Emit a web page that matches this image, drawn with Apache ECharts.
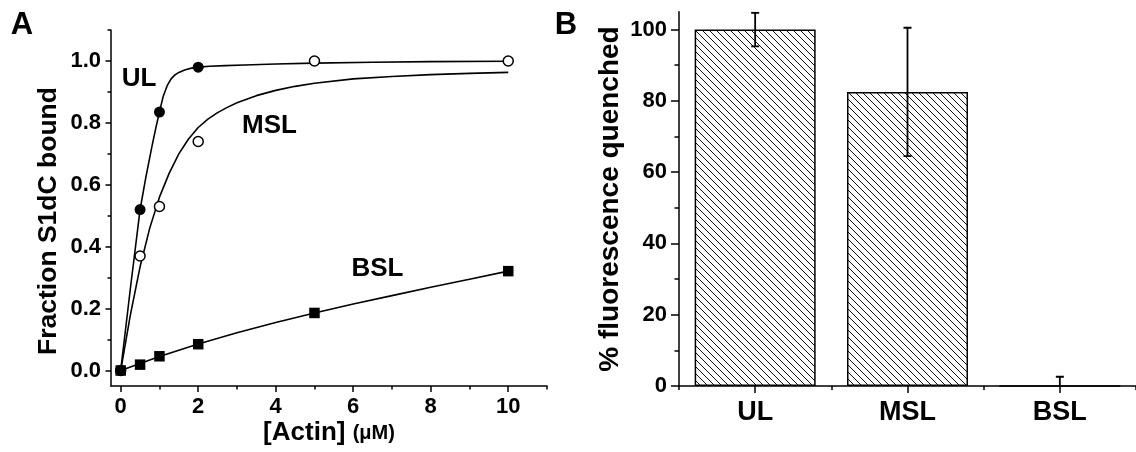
<!DOCTYPE html>
<html>
<head>
<meta charset="utf-8">
<script src="https://cdn.jsdelivr.net/npm/echarts@6/dist/echarts.min.js"></script>
<style>
  html, body { margin: 0; padding: 0; background: #fff; }
  #chart { width: 1136px; height: 452px; }
</style>
</head>
<body>
<div id="chart"></div>
<script>
// ---- Panel A: fraction of S1dC bound vs [Actin] ----
const ulX = [0, 0.5, 1, 2];
const ulY = [0, 0.52, 0.835, 0.98];
const mslX = [0, 0.5, 1, 2, 5, 10];
const mslY = [0, 0.37, 0.53, 0.74, 1.0, 1.0];
const bslX = [0, 0.5, 1, 2, 5, 10];
const bslY = [0, 0.019, 0.046, 0.085, 0.186, 0.321];

// fitted binding curves
const ulFitX = [0, 0.25, 0.5, 0.65, 0.8, 0.9, 1.0, 1.1, 1.2, 1.3, 1.4, 1.5, 1.65, 1.8, 2, 2.3, 2.7, 3.2, 4, 5, 6.5, 8, 10];
const ulFitY = [0, 0.265, 0.52, 0.625, 0.72, 0.78, 0.835, 0.887, 0.92, 0.942, 0.955, 0.963, 0.971, 0.976, 0.98, 0.983, 0.985, 0.987, 0.99, 0.993, 0.996, 0.998, 0.999];
const mslFitX = [0, 0.25, 0.5, 0.75, 1, 1.25, 1.5, 1.75, 2, 2.25, 2.5, 2.75, 3, 3.5, 4, 4.5, 5, 6, 7, 8, 9, 10];
const mslFitY = [0, 0.18, 0.335, 0.46, 0.56, 0.637, 0.70, 0.748, 0.785, 0.812, 0.833, 0.85, 0.865, 0.888, 0.905, 0.918, 0.928, 0.942, 0.950, 0.956, 0.960, 0.963];
const bslFitX = [0, 0.5, 1, 2, 3, 4, 5, 6, 7, 8, 9, 10];
const bslFitY = [0, 0.023, 0.045, 0.086, 0.122, 0.155, 0.186, 0.215, 0.242, 0.269, 0.295, 0.321];

const aXMajor = [0, 2, 4, 6, 8, 10];
const aXMinor = [1, 3, 5, 7, 9, 11];
const aYMajor = [0, 0.2, 0.4, 0.6, 0.8, 1.0];
const aYMinor = [0.1, 0.3, 0.5, 0.7, 0.9, 1.1];

// ---- Panel B: % fluorescence quenched ----
const bCategories = ['UL', 'MSL', 'BSL'];
const bQuench = [100, 82.5, 0];
const bErr = [4.7, 18, 2.6];
const bYMajor = [0, 20, 40, 60, 80, 100];
const bYMinor = [10, 30, 50, 70, 90];

const FONT = "'Liberation Sans', Arial, Helvetica, sans-serif";
const zip = (xs, ys) => xs.map((x, i) => [x, ys[i]]);

// diagonal hatch tile for the bars
function hatchTile() {
  const n = 7;
  const c = document.createElement('canvas');
  c.width = n; c.height = n;
  const g = c.getContext('2d');
  g.fillStyle = '#fff';
  g.fillRect(0, 0, n, n);
  g.strokeStyle = '#111';
  g.lineWidth = 1;
  g.beginPath();
  g.moveTo(-1, -1); g.lineTo(n + 1, n + 1);
  g.moveTo(-1, n - 1); g.lineTo(1, n + 1);
  g.moveTo(n - 1, -1); g.lineTo(n + 1, 1);
  g.stroke();
  return c;
}

const black = { color: '#000', width: 1.5 };
const tickFont = { color: '#000', fontSize: 22, fontWeight: 'bold', fontFamily: FONT };

function majorAxis(extra) {
  return Object.assign({
    axisLine: { show: true, onZero: false, lineStyle: black },
    splitLine: { show: false }
  }, extra);
}
function minorAxis(extra) {
  return Object.assign({
    axisLine: { show: false, onZero: false },
    axisLabel: { show: false },
    splitLine: { show: false }
  }, extra);
}

function textEl(x, y, text, size, rotation) {
  return {
    type: 'text', x: x, y: y, rotation: rotation || 0,
    style: {
      text: text, fill: '#000', fontSize: size, fontWeight: 'bold', fontFamily: FONT,
      align: 'center', verticalAlign: 'middle', textAlign: 'center', textVerticalAlign: 'middle'
    }
  };
}

const chart = echarts.init(document.getElementById('chart'), null, { renderer: 'canvas' });

const curveStyle = { color: '#000', width: 1.6 };

const option = {
  animation: false,
  backgroundColor: '#fff',
  grid: [
    { left: 111, right: 589, top: 30, bottom: 66, outerBoundsMode: 'none', containLabel: false },
    { left: 679, right: 0, top: 11.7, bottom: 66, outerBoundsMode: 'none', containLabel: false }
  ],
  xAxis: [
    majorAxis({
      gridIndex: 0, type: 'value', min: -0.25, max: 11, position: 'bottom',
      axisTick: { show: true, length: 6, customValues: aXMajor, lineStyle: black },
      axisLabel: Object.assign({ customValues: aXMajor, margin: 10 }, tickFont)
    }),
    minorAxis({
      gridIndex: 0, type: 'value', min: -0.25, max: 11, position: 'bottom',
      axisTick: { show: true, length: 3.5, customValues: aXMinor, lineStyle: black }
    }),
    majorAxis({
      gridIndex: 1, type: 'category', data: bCategories, position: 'bottom', boundaryGap: true,
      axisTick: { show: true, alignWithLabel: true, length: 7, lineStyle: black },
      axisLabel: { margin: 13, color: '#000', fontSize: 27, fontWeight: 'bold', fontFamily: FONT }
    }),
    minorAxis({
      gridIndex: 1, type: 'category', data: bCategories, position: 'bottom', boundaryGap: true,
      axisTick: { show: true, alignWithLabel: false, interval: 0, length: 4, lineStyle: black }
    })
  ],
  yAxis: [
    majorAxis({
      gridIndex: 0, type: 'value', min: -0.05, max: 1.1, position: 'left',
      axisTick: { show: true, length: 5.5, customValues: aYMajor, lineStyle: black },
      axisLabel: Object.assign({ customValues: aYMajor, margin: 10, formatter: v => v.toFixed(1) }, tickFont)
    }),
    minorAxis({
      gridIndex: 0, type: 'value', min: -0.05, max: 1.1, position: 'left',
      axisTick: { show: true, length: 3.5, customValues: aYMinor, lineStyle: black }
    }),
    majorAxis({
      gridIndex: 1, type: 'value', min: 0, max: 105, position: 'left',
      axisTick: { show: true, length: 8, customValues: bYMajor, lineStyle: black },
      axisLabel: Object.assign({ customValues: bYMajor, margin: 12 }, tickFont)
    }),
    minorAxis({
      gridIndex: 1, type: 'value', min: 0, max: 105, position: 'left',
      axisTick: { show: true, length: 4.5, customValues: bYMinor, lineStyle: black }
    })
  ],
  series: [
    // fitted curves
    { type: 'line', xAxisIndex: 0, yAxisIndex: 0, data: zip(ulFitX, ulFitY), showSymbol: false,
      smooth: false, lineStyle: curveStyle, z: 2, silent: true },
    { type: 'line', xAxisIndex: 0, yAxisIndex: 0, data: zip(mslFitX, mslFitY), showSymbol: false,
      smooth: false, lineStyle: curveStyle, z: 2, silent: true },
    { type: 'line', xAxisIndex: 0, yAxisIndex: 0, data: zip(bslFitX, bslFitY), showSymbol: false,
      smooth: false, lineStyle: curveStyle, z: 2, silent: true },
    // measured points
    { type: 'scatter', xAxisIndex: 0, yAxisIndex: 0, data: zip(mslX, mslY), symbol: 'circle', symbolSize: 10,
      itemStyle: { color: '#fff', borderColor: '#000', borderWidth: 1.5, opacity: 1 }, z: 3, silent: true },
    { type: 'scatter', xAxisIndex: 0, yAxisIndex: 0, data: zip(ulX, ulY), symbol: 'circle', symbolSize: 11,
      itemStyle: { color: '#000', opacity: 1 }, z: 4, silent: true },
    { type: 'scatter', xAxisIndex: 0, yAxisIndex: 0, data: zip(bslX, bslY), symbol: 'rect', symbolSize: 10.5,
      itemStyle: { color: '#000', opacity: 1 }, z: 5, silent: true },
    // quenching bars
    { type: 'bar', xAxisIndex: 2, yAxisIndex: 2, data: bQuench, barWidth: 121,
      itemStyle: { color: { image: hatchTile(), repeat: 'repeat' }, borderColor: '#000', borderWidth: 1.5 },
      z: 2, silent: true },
    // error bars
    { type: 'custom', xAxisIndex: 2, yAxisIndex: 2, clip: true, z: 3, silent: true,
      data: bQuench.map((v, i) => [i, v - bErr[i], v + bErr[i]]),
      encode: { x: 0, y: [1, 2] },
      renderItem: function (params, api) {
        const x = api.value(0);
        const top = api.coord([x, api.value(2)]);
        const bot = api.coord([x, api.value(1)]);
        const cap = 4;
        const st = { stroke: '#000', lineWidth: 1.8 };
        return {
          type: 'group',
          children: [
            { type: 'line', shape: { x1: top[0], y1: top[1], x2: bot[0], y2: bot[1] }, style: st },
            { type: 'line', shape: { x1: top[0] - cap, y1: top[1], x2: top[0] + cap, y2: top[1] }, style: st },
            { type: 'line', shape: { x1: bot[0] - cap, y1: bot[1], x2: bot[0] + cap, y2: bot[1] }, style: st }
          ]
        };
      }
    }
  ],
  graphic: [
    textEl(22, 25, 'A', 31),
    textEl(566, 25, 'B', 31),
    textEl(49, 221, 'Fraction S1dC bound', 26.5, Math.PI / 2),
    textEl(610, 199, '% fluorescence quenched', 28, Math.PI / 2),
    { type: 'text', x: 329, y: 433, style: {
        text: '{a|[Actin]} {b|(μM)}', align: 'center', verticalAlign: 'middle', textAlign: 'center', textVerticalAlign: 'middle',
        fontSize: 26, fontWeight: 'bold', fontFamily: FONT,
        rich: {
          a: { fill: '#000', color: '#000', fontSize: 26, fontWeight: 'bold', fontFamily: FONT },
          b: { fill: '#000', color: '#000', fontSize: 20, fontWeight: 'bold', fontFamily: FONT }
        } } },
    textEl(139, 79, 'UL', 26),
    textEl(269.5, 126, 'MSL', 26),
    textEl(377.5, 269, 'BSL', 26)
  ]
};

chart.setOption(option);
</script>
</body>
</html>
